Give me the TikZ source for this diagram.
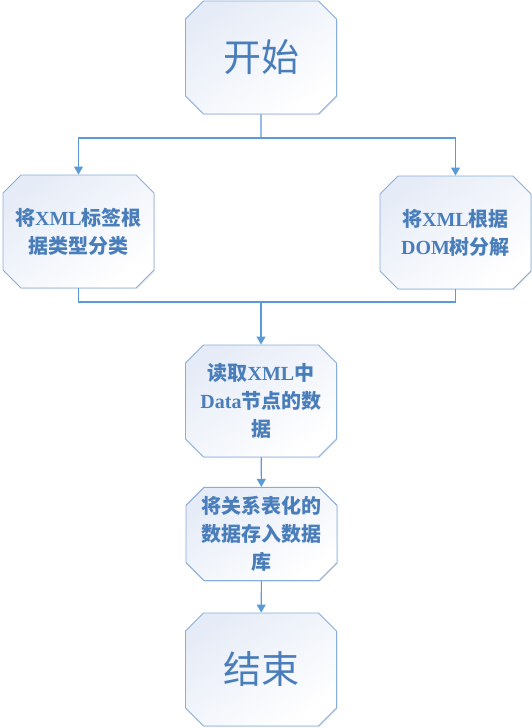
\documentclass[tikz,border=0pt]{standalone}
\usepackage{fontspec}
\usepackage{xcolor}
\usepackage{tikz}
\usetikzlibrary{arrows.meta,shapes.misc,shadows}
\setmainfont{Liberation Serif}
\newfontfamily\cjk{Noto Sans CJK SC}
\newfontfamily\latb{Liberation Serif}
\definecolor{FlowLine}{HTML}{5B9BD5}
\definecolor{FlowEdge}{HTML}{86ADDB}
\definecolor{FlowText}{HTML}{4A7EBB}
\definecolor{FlowTint}{HTML}{E6ECF7}
\newcommand{\lt}[1]{{\latb\bfseries #1}}

\begin{document}
\begin{tikzpicture}[x=1pt,y=-1pt,
  box/.style={chamfered rectangle,chamfered rectangle xsep=9pt,chamfered rectangle ysep=9pt,
    draw=FlowEdge,line width=.9pt,inner sep=0pt,minimum width=151pt,minimum height=113pt,
    top color=FlowTint,bottom color=white,shading angle=35,text=FlowText,align=center,
    drop shadow={opacity=.18,shadow xshift=1pt,shadow yshift=-1pt}},
  big/.style={box,font=\cjk\fontsize{38}{44}\selectfont},
  small/.style={box,font=\cjk\bfseries\fontsize{20}{28}\selectfont},
  line/.style={draw=FlowLine,line width=1.1pt},
  arr/.style={line,-{Triangle[width=9pt,length=8pt]}}]
\useasboundingbox (0,0) rectangle (532,728);
\node[big] (start) at (261,57.5) {开始};
\node[small] (left) at (78.5,231.5) {将\lt{XML}标签根\\据类型分类};
\node[small] (right) at (455.5,232.5) {将\lt{XML}根据\\\lt{DOM}树分解};
\node[small,minimum height=112pt] (read) at (261,401) {读取\lt{XML}中\\\lt{Data}节点的数\\据};
\node[small,minimum height=92pt] (store) at (261.5,534) {将关系表化的\\数据存入数据\\库};
\node[big] (finish) at (261,669.5) {结束};
\coordinate (split) at (261,138);
\coordinate (join) at (261,302);
\draw[line] (start) -- (split);
\draw[arr] (split) -| (left);
\draw[arr] (split) -| (right);
\draw[line] (left) |- (join);
\draw[line] (right) |- (join);
\draw[arr] (join) -- (read);
\draw[arr] (read) -- (store);
\draw[arr] (store) -- (finish);
\end{tikzpicture}
\end{document}
